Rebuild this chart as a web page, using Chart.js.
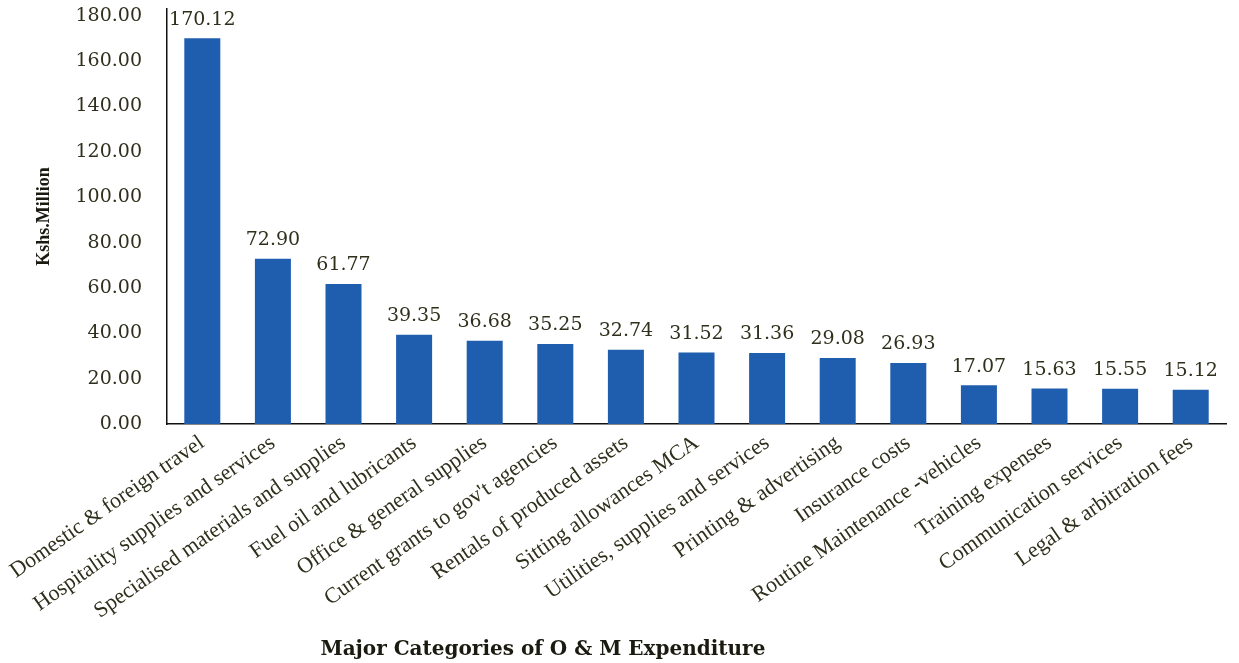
<!DOCTYPE html>
<html lang="en">
<head>
    <meta charset="UTF-8">
    <title>O & M Expenditure</title>
<script src="https://cdn.jsdelivr.net/npm/chart.js@4.4.0/dist/chart.umd.min.js"></script>
<style>
    body { margin:0; background:#fff; }
    #wrap { width:1239px; height:663px; }
</style>
</head>
<body>
<div id="wrap"><canvas id="myChart"></canvas></div>
<script>
// categories and values
const categories = [
    'Domestic & foreign travel',
    'Hospitality supplies and services',
    'Specialised materials and supplies',
    'Fuel oil and lubricants',
    'Office & general supplies',
    "Current grants to gov't agencies",
    'Rentals of produced assets',
    'Sitting allowances MCA',
    'Utilities, supplies and services',
    'Printing & advertising',
    'Insurance costs',
    'Routine Maintenance -vehicles',
    'Training expenses',
    'Communication services',
    'Legal & arbitration fees'
];
const amounts = [170.12, 72.90, 61.77, 39.35, 36.68, 35.25, 32.74, 31.52, 31.36, 29.08, 26.93, 17.07, 15.63, 15.55, 15.12];
const yTicks = [0, 20, 40, 60, 80, 100, 120, 140, 160, 180];

const textColor = '#2f2f1c';

// values on top of the bars (no datalabels plugin here)
const valueLabels = {
    id: 'valueLabels',
    afterDatasetsDraw(chart) {
        const ctx = chart.ctx;
        const meta = chart.getDatasetMeta(0);
        ctx.save();
        ctx.font = '19px "DejaVu Serif"';
        ctx.fillStyle = textColor;
        ctx.textAlign = 'center';
        ctx.textBaseline = 'bottom';
        meta.data.forEach(function(bar, i) {
            ctx.fillText(amounts[i].toFixed(2), bar.x, bar.y - 9);
        });
        ctx.restore();
    }
};

// x title sits left of centre in the original, so draw it by hand
const xTitle = {
    id: 'xTitle',
    afterDraw(chart) {
        const ctx = chart.ctx;
        const a = chart.chartArea;
        ctx.save();
        ctx.font = 'bold 20px "DejaVu Serif"';
        ctx.fillStyle = '#1a1a10';
        ctx.textAlign = 'center';
        ctx.textBaseline = 'middle';
        ctx.fillText('Major Categories of O & M Expenditure', a.left + (a.right - a.left) * 0.355, chart.height - 13);
        ctx.restore();
    }
};

const ctx = document.getElementById('myChart').getContext('2d');
const myChart = new Chart(ctx, {
    type: 'bar',
    data: {
        labels: categories,
        datasets: [{
            label: 'Kshs.Million',
            data: amounts,
            backgroundColor: '#1f5eae',
            categoryPercentage: 1,
            barPercentage: 0.51
        }]
    },
    options: {
        responsive: true,
        maintainAspectRatio: false,
        animation: false,
        layout: { padding: { top: 9, left: 0, right: 13, bottom: 0 } },
        plugins: {
            legend: { display: false },
            tooltip: { enabled: false }
        },
        scales: {
            x: {
                grid: { display: false, drawTicks: false },
                border: { display: true, color: '#111', width: 1.5 },
                afterFit(scale) { scale.height = 239; },
                ticks: {
                    color: textColor,
                    font: { family: 'Liberation Serif', size: 22 },
                    minRotation: 35,
                    maxRotation: 35,
                    autoSkip: false,
                    padding: 6
                }
            },
            y: {
                min: 0,
                max: 183,
                grid: { display: false, drawTicks: false },
                border: { display: true, color: '#111', width: 1.5 },
                afterFit(scale) {
                    scale.width = 167;
                    // tick padding would otherwise push the plot top down
                    scale.paddingTop = 0;
                    scale.paddingBottom = 0;
                },
                afterBuildTicks(scale) {
                    scale.ticks = yTicks.map(v => ({ value: v }));
                },
                ticks: {
                    color: textColor,
                    font: { family: 'DejaVu Serif', size: 19 },
                    padding: 25,
                    callback: v => Number(v).toFixed(2)
                },
                title: {
                    display: true,
                    text: 'Kshs.Million',
                    color: '#1a1a10',
                    font: { family: 'Liberation Serif', size: 18, weight: 'bold' },
                    padding: { top: 34, bottom: 20 }
                }
            }
        }
    },
    plugins: [valueLabels, xTitle]
});
</script>
</body>
</html>
